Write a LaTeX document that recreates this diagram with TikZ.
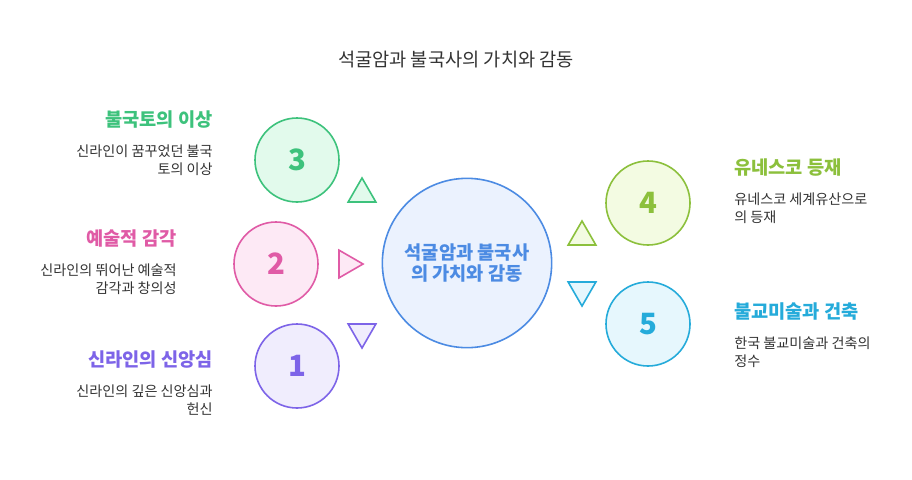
\documentclass[tikz,border=0pt]{standalone}
\usepackage{fontspec}
\setmainfont{Noto Sans CJK KR}
\usepackage{tikz}
\usepackage{xcolor}
\usetikzlibrary{shapes.geometric, positioning}
\definecolor{cText}{HTML}{333333}
\definecolor{cHub}{HTML}{4C8BE3}
\definecolor{cHubL}{HTML}{EBF2FE}
\definecolor{cGreen}{HTML}{3DC27C}
\definecolor{cGreenL}{HTML}{E2FAEC}
\definecolor{cPink}{HTML}{E05BA6}
\definecolor{cPinkL}{HTML}{FDE9F5}
\definecolor{cPurple}{HTML}{7D64E8}
\definecolor{cPurpleL}{HTML}{F0EDFD}
\definecolor{cLime}{HTML}{8CC03C}
\definecolor{cLimeL}{HTML}{F3FBE2}
\definecolor{cCyan}{HTML}{25ABDA}
\definecolor{cCyanL}{HTML}{E6F7FD}
\tikzset{
	numcirc/.style={circle, minimum size=63pt, inner sep=0pt, line width=1.2pt, font=\bfseries\fontsize{22}{22}\selectfont},
	tri/.style={regular polygon, regular polygon sides=3, minimum size=24pt, inner sep=0pt, line width=1.2pt},
	headline/.style={inner sep=0pt, font=\bfseries\fontsize{14}{16}\selectfont},
	desc/.style={inner sep=0pt, text=cText, font=\fontsize{10.6}{13.5}\selectfont},
}
\begin{document}
\begin{tikzpicture}[x=0.75pt, y=-0.75pt]
	\useasboundingbox[fill=white] (0,0) rectangle (912,479);
	\node[text=cText, font=\fontsize{14}{16}\selectfont] (title) at (456,60) {석굴암과 불국사의 가치와 감동};
	\node[circle, minimum size=127pt, draw=cHub, fill=cHubL, line width=1.2pt, text=cHub, align=center,
	font=\bfseries\fontsize{14}{16}\selectfont] (hub) at (467,263) {석굴암과 불국사\\의 가치와 감동};
	% left side
	\node[numcirc, draw=cGreen, fill=cGreenL, text=cGreen] (c3) at (297,160) {3};
	\node[numcirc, draw=cPink, fill=cPinkL, text=cPink] (c2) at (276,264) {2};
	\node[numcirc, draw=cPurple, fill=cPurpleL, text=cPurple] (c1) at (297,366) {1};
	\node[tri, draw=cGreen, fill=cGreenL] (t3) at (362,194) {};
	\node[tri, draw=cPink, fill=cPinkL, shape border rotate=-90] (t2) at (347,264) {};
	\node[tri, draw=cPurple, fill=cPurpleL, shape border rotate=180] (t1) at (362,332) {};
	\node[headline, text=cGreen, anchor=base east] (h3) at (213,126) {불국토의 이상};
	\node[desc, align=right, below left=12pt and 0pt of h3.south east] (d3) {신라인이 꿈꾸었던 불국\\토의 이상};
	\node[headline, text=cPink, anchor=base east] (h2) at (177,245) {예술적 감각};
	\node[desc, align=right, below left=12pt and 0pt of h2.south east] (d2) {신라인의 뛰어난 예술적\\감각과 창의성};
	\node[headline, text=cPurple, anchor=base east] (h1) at (213,366) {신라인의 신앙심};
	\node[desc, align=right, below left=12pt and 0pt of h1.south east] (d1) {신라인의 깊은 신앙심과\\헌신};
	% right side
	\node[numcirc, draw=cLime, fill=cLimeL, text=cLime] (c4) at (648,203) {4};
	\node[numcirc, draw=cCyan, fill=cCyanL, text=cCyan] (c5) at (648,324) {5};
	\node[tri, draw=cLime, fill=cLimeL] (t4) at (582,237) {};
	\node[tri, draw=cCyan, fill=cCyanL, shape border rotate=180] (t5) at (582,290) {};
	\node[headline, text=cLime, anchor=base west] (h4) at (734,174) {유네스코 등재};
	\node[desc, align=left, below right=12pt and 0pt of h4.south west] (d4) {유네스코 세계유산으로\\의 등재};
	\node[headline, text=cCyan, anchor=base west] (h5) at (734,318) {불교미술과 건축};
	\node[desc, align=left, below right=12pt and 0pt of h5.south west] (d5) {한국 불교미술과 건축의\\정수};
\end{tikzpicture}
\end{document}
